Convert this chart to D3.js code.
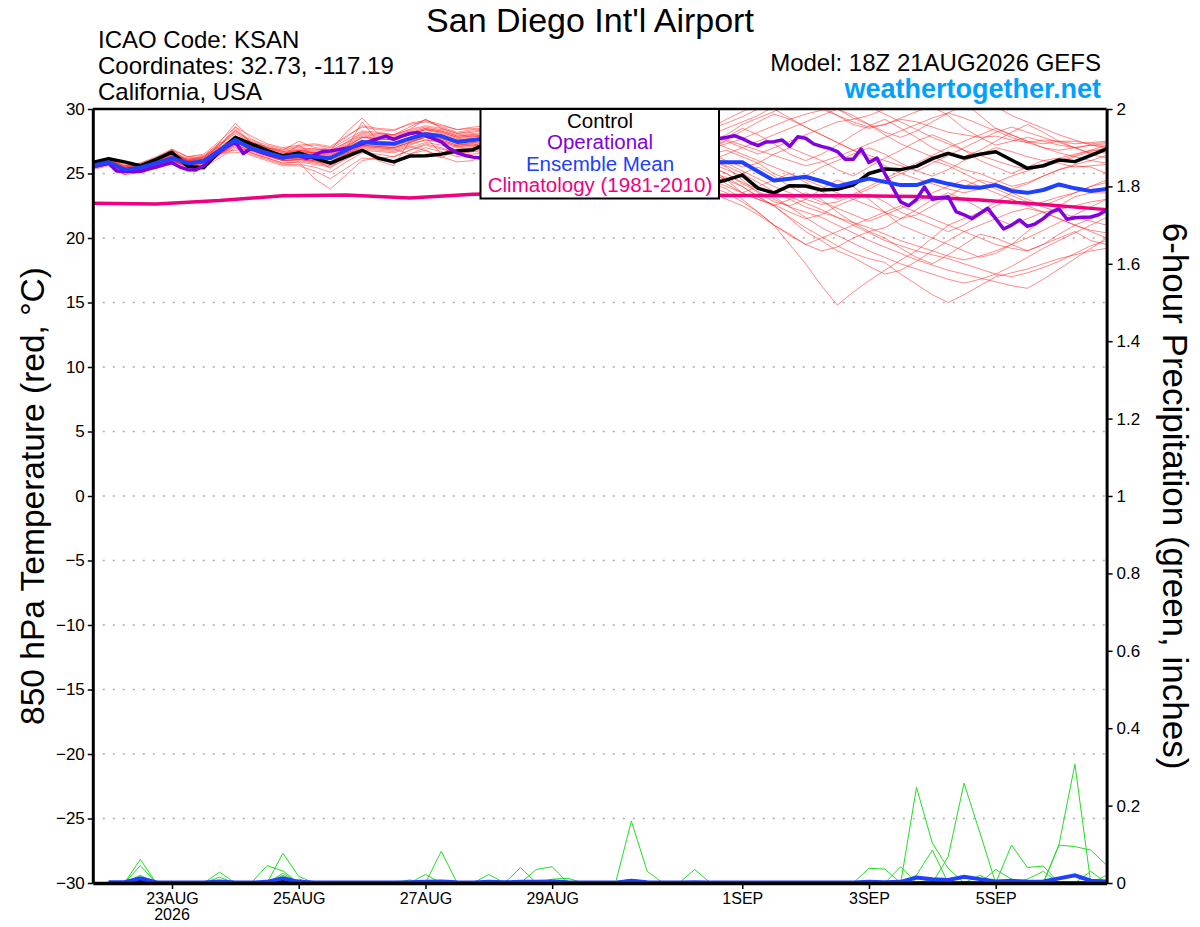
<!DOCTYPE html>
<html>
<head>
<meta charset="utf-8">
<script src="https://cdn.jsdelivr.net/npm/d3@7"></script>
<style>
  body { margin: 0; background: #fff; }
  text { font-family: "Liberation Sans", Arial, Helvetica, sans-serif; }
</style>
</head>
<body>
<svg id="chart" width="1200" height="927"></svg>
<script>
var runStart = Date.UTC(2026, 7, 21, 18);   // 18Z 21AUG2026
var stepHours = 6;          // ensemble / control / mean
var operStepHours = 3;      // operational run
var climoStepHours = 24;
var precipStartHour = 6;    // first 6-hour precip total

var tempTicks = [-30, -25, -20, -15, -10, -5, 0, 5, 10, 15, 20, 25, 30];
var precipTicks = [0, 0.2, 0.4, 0.6, 0.8, 1, 1.2, 1.4, 1.6, 1.8, 2];
var dateTicks = ["2026-08-23", "2026-08-25", "2026-08-27", "2026-08-29", "2026-09-01", "2026-09-03", "2026-09-05"];
var dateTickLabels = ["23AUG", "25AUG", "27AUG", "29AUG", "1SEP", "3SEP", "5SEP"];

var controlTemp = [25.85, 26.15, 25.9, 25.6, 26.1, 26.65, 25.55, 25.45, 26.7, 27.8, 27.3, 26.8, 26.35, 26.6, 26.2, 25.8,
  26.3, 26.8, 26.2, 25.9, 26.35, 26.38, 26.5, 26.75, 26.85, 27.4, 27.6, 27.9, 27.5, 27.2, 27.0, 26.6,
  26.2, 25.8, 25.5, 25.2, 24.9, 24.6, 24.5, 24.2, 24.5, 24.88, 23.85, 23.5, 24.06, 24.03, 23.72, 23.78,
  24.1, 25.0, 25.35, 25.3, 25.55, 26.15, 26.56, 26.2, 26.49, 26.69, 26.05, 25.4, 25.6, 26.05, 25.92, 26.4, 26.9];

var meanTemp = [25.6, 25.87, 25.3, 25.45, 25.8, 26.18, 25.8, 25.95, 26.8, 27.6, 26.95, 26.6, 26.25, 26.4, 26.3, 26.18,
  26.8, 27.45, 27.35, 27.3, 27.7, 28.05, 27.9, 27.45, 27.6, 27.75, 27.6, 27.4, 27.2, 27.0, 26.9, 26.7,
  26.5, 26.4, 26.3, 26.2, 26.1, 26.0, 25.95, 25.9, 25.87, 25.87, 25.15, 24.45, 24.6, 24.75, 24.4, 24.0,
  24.3, 24.6, 24.35, 24.1, 24.1, 24.5, 24.2, 23.95, 23.9, 24.1, 23.65, 23.5, 23.72, 24.15, 23.85, 23.65, 23.8];

var operTemp = [25.53, 25.65, 25.8, 25.2, 25.15, 25.15, 25.15, 25.35, 25.5, 25.7,
  25.84, 25.5, 25.3, 25.27, 25.6, 26.2, 26.7, 27.1, 27.45, 26.55,
  26.95, 26.7, 26.5, 26.35, 26.2, 26.35, 26.4, 26.18, 26.45, 26.7,
  26.74, 26.85, 26.95, 27.08, 27.3, 27.5, 27.7, 27.9, 27.65, 27.9,
  28.1, 28.17, 27.95, 27.7, 27.45, 26.95, 26.6, 26.4, 26.27, 26.2,
  26.3, 26.5, 26.7, 26.9, 27.1, 27.3, 27.5, 27.6, 27.7, 27.8,
  27.9, 27.8, 27.7, 27.6, 27.5, 27.6, 27.7, 27.8, 27.9, 28.0,
  27.9, 27.8, 27.7, 27.6, 27.5, 27.6, 27.7, 27.8, 27.7,
  27.7, 27.8, 27.93, 27.7, 27.4, 27.16, 27.45, 27.47, 27.6, 27.1,
  27.85, 27.73, 27.3, 27.1, 26.95, 26.7, 26.1, 26.1, 26.9, 25.85,
  26.2, 25.0, 23.9, 22.8, 22.5, 23.0,
  23.95, 23.0, 23.1, 23.2, 22.05, 21.8, 21.5, 21.9, 22.3, 21.5,
  20.7, 21.0, 21.4, 20.9, 21.1, 21.5, 22.0, 22.25, 21.45, 21.57,
  21.6, 21.63, 21.8, 22.17];

var climoTemp = [22.69, 22.64, 22.9, 23.28, 23.33, 23.1, 23.4, 23.5, 23.5, 23.45, 23.3, 23.28, 23.27, 23.22, 22.95, 22.6, 22.2];

var memberTemps = [
  [25.7, 26.0, 25.5, 25.6, 26.1, 26.6, 26.0, 26.2, 27.2, 28.2, 27.5, 27.0, 26.8, 27.5, 27.0, 26.9, 27.6, 28.3, 28.2, 28.0, 28.6, 29.2, 28.6, 28.2, 28.4,
   28.6, 28.8, 29.0, 28.7, 28.4, 28.6, 28.9, 29.2, 28.8, 28.5, 28.3, 28.5, 28.4, 28.5,
   28.5, 28.9, 29.4, 30.0, 30.6, 31.0, 30.6, 30.0, 29.5, 29.0, 28.6, 28.8, 29.2, 29.0, 28.6, 28.2, 28.0, 27.8, 27.9, 27.6, 27.4, 27.6, 27.5, 27.3, 27.4, 27.5],
  [25.5, 25.8, 25.1, 25.3, 25.6, 26.0, 25.5, 25.7, 26.5, 27.3, 26.6, 26.2, 25.8, 25.9, 24.6, 23.8, 24.9, 26.0, 26.2, 26.3, 26.8, 27.3, 27.0, 26.5, 26.7,
   26.9, 27.2, 27.0, 26.6, 26.2, 25.9, 25.6, 25.3, 25.0, 24.8, 24.6, 24.4, 24.5, 24.5,
   24.3, 23.8, 23.0, 22.0, 21.0, 19.5, 18.0, 16.3, 14.8, 15.8, 16.7, 17.5, 18.3, 19.0, 20.0, 21.0, 21.5, 22.0, 22.8, 23.5, 23.0, 22.5, 23.0, 23.5, 24.0, 24.5],
  [25.8, 26.1, 25.6, 25.7, 26.0, 26.5, 26.1, 26.3, 27.4, 28.9, 27.7, 27.0, 26.6, 26.8, 26.6, 26.4, 27.0, 27.8, 27.7, 27.6, 28.0, 28.4, 28.2, 27.8, 27.9,
   27.7, 27.4, 27.1, 26.8, 26.6, 26.4, 26.2, 26.0, 25.8, 25.6, 25.4, 25.3, 25.2, 25.1,
   25.0, 24.5, 24.0, 23.2, 22.5, 21.6, 20.8, 20.1, 19.4, 18.8, 18.4, 18.1, 17.2, 16.4, 15.6, 15.0, 15.6, 16.3, 17.0, 17.3, 17.6, 18.0, 18.4, 18.7, 19.0, 19.2],
  [25.4, 25.7, 25.2, 25.4, 26.0, 26.9, 25.9, 25.8, 26.5, 27.2, 26.8, 26.4, 26.0, 26.1, 26.0, 25.9, 26.4, 27.1, 27.0, 26.9, 27.3, 27.6, 27.5, 27.1, 27.2,
   27.0, 26.8, 26.5, 26.3, 26.1, 26.0, 25.9, 25.8, 25.7, 25.6, 25.6, 25.5, 25.5, 25.5,
   25.5, 25.0, 24.2, 23.6, 23.0, 22.4, 22.0, 21.6, 21.0, 20.4, 19.8, 19.3, 18.8, 18.3, 17.9, 17.5, 17.2, 16.9, 16.6, 16.3, 16.1, 16.8, 17.6, 18.4, 19.2, 20.0],
  [25.6, 25.9, 25.2, 25.4, 25.7, 26.1, 25.7, 26.1, 26.9, 27.8, 27.1, 26.6, 26.2, 26.2, 26.0, 25.8, 26.5, 27.2, 27.1, 27.0, 27.4, 27.8, 27.6, 27.2, 27.3,
   27.1, 26.8, 26.4, 26.0, 25.7, 25.4, 25.1, 24.9, 24.7, 24.5, 24.4, 24.3, 24.2, 24.1,
   24.0, 23.5, 22.8, 22.0, 21.0, 20.3, 19.5, 19.0, 19.3, 20.0, 20.5, 20.0, 19.2, 18.5, 18.0, 18.7, 19.5, 20.3, 20.0, 19.5, 19.0, 19.5, 20.3, 21.0, 21.5, 22.0],
  [25.7, 25.8, 24.9, 25.5, 25.9, 26.3, 25.9, 26.0, 26.7, 27.4, 26.9, 26.6, 26.4, 27.2, 26.4, 26.3, 26.9, 27.4, 27.3, 27.2, 27.6, 27.9, 27.7, 27.4, 27.5,
   27.3, 27.0, 26.7, 26.4, 26.1, 25.9, 25.7, 25.6, 25.5, 25.4, 25.3, 25.2, 25.1, 25.0,
   25.0, 24.2, 23.5, 23.0, 22.6, 22.0, 21.5, 21.8, 22.5, 23.0, 23.4, 22.8, 22.0, 21.5, 21.0, 20.5, 21.0, 21.8, 22.5, 23.0, 22.5, 22.0, 21.5, 21.0, 20.5, 20.0],
  [25.6, 25.9, 25.4, 25.6, 26.0, 26.5, 26.1, 26.3, 27.1, 28.6, 27.4, 27.0, 26.7, 26.8, 26.8, 26.7, 27.4, 28.1, 28.0, 27.9, 28.3, 28.6, 28.4, 28.0, 28.1,
   28.2, 28.4, 28.5, 28.3, 28.1, 27.9, 27.7, 27.6, 27.5, 27.4, 27.4, 27.5, 27.5, 27.5,
   27.5, 28.0, 28.8, 29.3, 29.8, 30.5, 30.8, 30.2, 29.5, 28.8, 28.5, 28.8, 29.3, 29.8, 30.2, 29.5, 28.5, 27.8, 27.2, 27.5, 27.8, 27.5, 27.2, 27.0, 27.2, 27.3],
  [25.5, 25.8, 25.3, 25.4, 25.7, 26.1, 25.7, 25.9, 26.7, 27.5, 26.8, 26.4, 26.1, 26.2, 26.1, 25.4, 26.6, 27.3, 27.2, 27.1, 27.5, 27.9, 27.7, 27.3, 27.4,
   27.5, 27.6, 27.4, 27.2, 27.0, 26.9, 26.8, 26.7, 26.6, 26.6, 26.5, 26.5, 26.5, 26.5,
   26.5, 26.0, 25.5, 25.8, 26.5, 27.0, 26.5, 26.0, 25.3, 24.8, 25.5, 26.2, 26.8, 27.5, 28.0, 27.5, 26.8, 26.0, 25.5, 25.0, 25.5, 26.0, 26.2, 26.5, 26.8, 26.8],
  [25.6, 25.9, 25.3, 25.4, 25.8, 26.3, 25.9, 26.0, 26.8, 27.7, 27.1, 26.7, 26.3, 26.5, 26.4, 26.3, 26.9, 29.0, 27.5, 27.4, 27.8, 28.2, 28.0, 27.6, 27.7,
   27.8, 27.7, 27.5, 27.3, 27.1, 27.0, 26.9, 26.8, 26.6, 26.5, 26.4, 26.3, 26.2, 26.1,
   26.0, 25.5, 24.5, 23.5, 22.8, 22.5, 23.0, 23.8, 24.5, 24.0, 23.0, 22.0, 21.0, 20.5, 20.0, 19.5, 19.0, 18.5, 18.8, 19.5, 20.5, 21.5, 22.5, 23.2, 23.5, 23.5],
  [25.7, 26.0, 25.5, 25.6, 25.9, 26.4, 26.0, 26.2, 27.0, 27.9, 27.3, 26.9, 26.6, 26.7, 26.6, 26.5, 27.1, 27.8, 27.7, 27.6, 28.0, 28.4, 28.2, 27.8, 27.9,
   28.0, 28.1, 27.9, 27.7, 27.5, 27.4, 27.3, 27.2, 27.1, 27.0, 27.0, 27.0, 27.0, 27.0,
   27.0, 27.5, 27.0, 26.5, 27.0, 27.5, 28.0, 28.5, 29.0, 29.2, 29.5, 30.0, 30.5, 31.0, 30.5, 30.0, 30.5, 29.5, 28.5, 28.0, 27.5, 27.3, 27.5, 27.5, 27.3, 27.4],
  [25.4, 25.7, 25.1, 25.3, 25.6, 26.0, 25.6, 25.8, 27.4, 27.3, 26.7, 26.3, 26.0, 26.0, 25.8, 25.6, 26.2, 26.9, 26.8, 26.7, 27.1, 26.8, 26.2, 26.9, 27.0,
   26.8, 26.6, 26.4, 26.2, 26.0, 25.9, 25.8, 25.7, 25.7, 25.6, 25.6, 25.5, 25.5, 25.5,
   25.5, 24.5, 23.5, 23.0, 22.5, 23.0, 23.5, 23.0, 22.0, 21.2, 20.5, 20.8, 21.5, 22.2, 23.0, 23.5, 23.0, 22.3, 21.5, 21.0, 21.5, 22.0, 22.2, 22.5, 22.8, 23.0],
  [25.8, 26.1, 25.5, 25.7, 26.1, 26.6, 26.2, 26.3, 27.2, 28.1, 27.4, 27.0, 26.7, 26.9, 26.9, 26.8, 28.2, 29.3, 28.1, 28.0, 28.4, 29.2, 28.5, 28.1, 28.3,
   28.4, 28.3, 28.1, 27.9, 27.7, 27.5, 27.4, 27.3, 27.2, 27.1, 27.1, 27.0, 27.0, 27.0,
   27.0, 27.8, 28.5, 28.0, 27.3, 26.5, 26.0, 26.5, 27.2, 28.0, 28.7, 29.2, 28.5, 27.8, 27.0, 26.5, 26.3, 26.8, 27.5, 28.2, 28.8, 28.2, 27.5, 27.0, 26.5, 26.2],
  [25.5, 25.8, 25.2, 25.3, 25.7, 26.0, 25.6, 25.8, 26.5, 27.4, 26.9, 26.5, 26.1, 26.2, 26.0, 25.9, 26.5, 27.2, 27.1, 27.0, 27.4, 27.9, 26.5, 27.2, 27.4,
   27.2, 27.0, 26.8, 26.6, 26.4, 26.2, 26.0, 25.8, 25.6, 25.4, 25.3, 25.2, 25.1, 25.0,
   25.0, 24.7, 24.0, 23.2, 22.5, 21.5, 20.5, 19.8, 19.0, 18.5, 17.8, 17.2, 17.5, 18.2, 19.0, 19.8, 20.5, 21.0, 21.5, 22.0, 22.3, 22.0, 21.5, 21.0, 20.6, 20.4],
  [25.6, 25.9, 25.4, 25.5, 25.9, 26.3, 26.0, 26.1, 26.9, 27.7, 27.1, 26.7, 26.4, 26.6, 26.5, 26.4, 27.0, 27.6, 27.5, 27.4, 27.8, 28.2, 28.0, 27.6, 27.7,
   27.6, 27.4, 27.2, 27.0, 26.8, 26.6, 26.5, 26.4, 26.3, 26.2, 26.1, 26.1, 26.0, 26.0,
   26.0, 26.5, 27.0, 27.5, 28.0, 28.5, 29.0, 29.5, 30.0, 29.5, 28.8, 28.0, 27.3, 26.8, 26.3, 25.8, 25.3, 25.0, 24.5, 24.0, 24.3, 24.8, 25.3, 25.7, 26.0, 26.4],
  [25.5, 25.7, 25.2, 25.4, 25.7, 26.1, 25.7, 25.9, 26.6, 27.5, 26.9, 26.5, 26.2, 26.3, 26.1, 25.9, 26.6, 26.8, 26.0, 25.6, 27.5, 27.8, 27.6, 27.2, 27.3,
   27.0, 26.7, 26.4, 26.1, 25.8, 25.5, 25.3, 25.1, 24.9, 24.8, 24.7, 24.6, 24.6, 24.5,
   24.5, 24.0, 23.5, 24.0, 24.5, 25.0, 24.5, 24.0, 23.5, 23.0, 22.5, 22.0, 21.5, 21.8, 22.5, 23.2, 24.0, 24.5, 24.2, 23.8, 24.2, 24.8, 25.3, 25.6, 25.5, 25.0],
  [25.7, 26.1, 25.6, 25.7, 26.0, 26.5, 26.1, 26.2, 27.1, 28.4, 27.4, 27.1, 26.8, 27.0, 26.9, 26.8, 27.4, 28.2, 28.1, 28.0, 28.4, 28.7, 28.5, 28.1, 28.2,
   28.4, 28.6, 28.7, 28.5, 28.3, 28.2, 28.1, 28.0, 28.0, 27.9, 27.9, 28.0, 28.0, 28.0,
   28.0, 28.5, 29.0, 29.5, 30.2, 30.8, 31.0, 30.5, 30.0, 29.3, 28.8, 28.2, 27.8, 28.3, 29.0, 29.7, 30.3, 30.8, 30.2, 29.5, 29.0, 28.5, 28.0, 27.6, 27.2, 27.0],
  [25.5, 25.8, 25.2, 25.4, 25.7, 26.0, 25.6, 25.9, 26.7, 26.8, 26.9, 26.4, 26.0, 26.1, 25.9, 25.7, 26.4, 27.0, 26.9, 26.8, 27.2, 27.6, 27.4, 27.0, 27.1,
   26.9, 26.6, 26.2, 25.8, 25.5, 25.2, 24.9, 24.6, 24.4, 24.2, 24.0, 23.8, 23.7, 23.6,
   23.5, 23.0, 22.5, 21.8, 21.0, 20.2, 19.5, 20.0, 20.5, 21.0, 21.5, 22.0, 22.5, 22.0, 21.5, 21.0, 20.5, 20.0, 19.5, 19.2, 19.0, 19.5, 20.0, 20.5, 19.8, 19.5],
  [25.6, 25.9, 25.3, 25.5, 25.8, 26.2, 25.8, 26.0, 26.8, 27.6, 27.0, 26.6, 26.3, 26.4, 26.3, 26.2, 26.8, 27.5, 27.4, 27.3, 27.7, 28.1, 27.9, 27.5, 27.6,
   27.7, 27.6, 27.4, 27.2, 27.0, 26.9, 26.8, 26.7, 26.6, 26.6, 26.5, 26.5, 26.5, 26.5,
   26.5, 26.8, 26.3, 25.8, 25.0, 24.5, 24.8, 25.5, 26.0, 26.5, 27.0, 26.5, 25.8, 25.2, 24.8, 25.3, 26.0, 26.5, 27.0, 26.7, 26.3, 26.0, 25.8, 25.5, 25.6, 25.7],
  [25.7, 25.9, 25.4, 25.6, 25.9, 26.4, 26.0, 26.1, 26.9, 27.8, 27.2, 26.8, 26.5, 26.6, 26.6, 26.5, 27.1, 27.8, 27.7, 27.6, 28.0, 28.4, 28.1, 27.7, 27.8,
   28.0, 28.1, 28.0, 27.9, 27.8, 27.7, 27.7, 27.6, 27.6, 27.5, 27.5, 27.5, 27.5, 27.5,
   27.5, 27.0, 26.5, 26.0, 25.5, 25.0, 24.3, 23.6, 23.0, 23.4, 24.0, 24.6, 25.2, 25.8, 26.4, 27.0, 27.5, 28.0, 28.5, 28.0, 27.5, 27.0, 26.8, 27.0, 27.2, 27.1],
  [25.4, 25.7, 25.1, 25.3, 25.6, 26.0, 25.6, 25.8, 26.6, 26.6, 26.8, 26.4, 26.0, 26.1, 25.9, 25.8, 26.4, 27.1, 27.0, 26.9, 26.5, 26.8, 26.3, 25.9, 26.0,
   26.9, 26.7, 26.5, 26.3, 26.1, 25.9, 25.7, 25.5, 25.4, 25.3, 25.2, 25.1, 25.0, 25.0,
   25.0, 24.5, 25.0, 25.5, 24.8, 24.0, 23.3, 22.8, 22.3, 21.8, 21.3, 21.8, 22.3, 22.8, 23.5, 24.0, 24.5, 24.0, 23.5, 23.0, 22.5, 22.8, 23.2, 23.5, 24.0, 24.3],
  [25.9, 26.2, 25.7, 25.8, 26.3, 26.9, 26.3, 26.5, 27.5, 28.6, 27.9, 27.3, 27.0, 27.2, 27.3, 27.1, 27.9, 28.6, 28.4, 28.3, 28.9, 29.1, 28.8, 28.4, 28.5,
   28.3, 28.1, 27.9, 27.8, 27.7, 27.6, 27.5, 27.4, 27.3, 27.2, 27.1, 27.1, 27.0, 27.0,
   27.0, 27.6, 28.3, 29.0, 29.6, 29.2, 28.6, 28.0, 27.4, 26.8, 26.2, 25.6, 25.0, 24.6, 24.2, 23.8, 23.5, 23.8, 24.3, 24.8, 25.2, 25.6, 26.0, 26.4, 26.8, 27.2],
  [25.3, 25.6, 24.9, 25.1, 25.4, 25.7, 25.3, 25.5, 26.2, 27.0, 26.4, 26.0, 25.6, 25.6, 25.2, 24.6, 25.4, 26.2, 26.1, 25.9, 26.5, 27.0, 26.7, 26.3, 26.5,
   26.6, 26.7, 26.6, 26.5, 26.4, 26.4, 26.3, 26.3, 26.2, 26.2, 26.1, 26.1, 26.0, 26.0,
   26.0, 25.6, 25.0, 24.3, 23.6, 23.0, 22.4, 22.0, 21.6, 21.2, 20.8, 20.3, 19.8, 19.4, 19.0, 18.6, 18.3, 18.6, 19.0, 19.5, 20.0, 20.6, 21.2, 21.8, 22.4, 23.0],
  [25.8, 26.0, 25.6, 25.8, 26.2, 26.8, 26.3, 26.4, 27.3, 28.3, 27.6, 27.2, 26.9, 27.1, 27.2, 27.0, 27.8, 28.7, 28.5, 28.4, 28.8, 29.0, 28.7, 28.4, 28.6,
   28.7, 28.9, 29.1, 28.9, 28.7, 28.6, 28.5, 28.4, 28.4, 28.4, 28.5, 28.5, 28.5, 28.5,
   28.5, 29.2, 29.8, 30.4, 30.0, 29.3, 28.6, 28.0, 27.4, 26.8, 26.4, 26.0, 25.6, 25.2, 25.8, 26.4, 27.0, 27.6, 28.2, 28.6, 28.2, 27.8, 27.4, 27.0, 26.6, 26.6],
  [25.5, 25.9, 25.3, 25.3, 25.6, 26.0, 25.5, 25.6, 26.4, 27.1, 26.5, 26.1, 25.7, 25.7, 25.5, 25.1, 25.9, 26.6, 26.5, 26.3, 26.8, 27.2, 26.9, 26.6, 26.7,
   26.6, 26.5, 26.4, 26.3, 26.2, 26.1, 26.0, 25.9, 25.8, 25.7, 25.7, 25.6, 25.6, 25.5,
   25.5, 25.0, 24.3, 23.8, 23.5, 23.2, 22.7, 22.2, 21.6, 21.0, 20.4, 19.8, 19.4, 19.0, 18.7, 18.4, 18.0, 17.6, 17.2, 17.0, 17.3, 17.7, 18.2, 18.8, 19.4, 19.8],
  [25.6, 25.9, 25.4, 25.6, 25.9, 26.3, 25.9, 26.1, 27.0, 27.9, 27.2, 26.8, 26.5, 26.7, 26.6, 26.6, 27.3, 28.0, 27.9, 27.8, 28.2, 28.5, 28.3, 27.9, 28.0,
   27.8, 27.6, 27.5, 27.4, 27.3, 27.2, 27.1, 27.1, 27.0, 27.0, 27.0, 27.0, 27.0, 27.0,
   27.0, 27.3, 27.7, 28.2, 28.7, 29.2, 29.6, 29.9, 30.3, 30.6, 30.2, 29.6, 29.0, 28.4, 27.8, 27.3, 26.8, 26.4, 26.0, 25.6, 25.3, 25.5, 25.9, 26.3, 26.7, 27.0],
  [25.6, 25.8, 25.2, 25.5, 25.8, 26.2, 25.8, 25.9, 26.7, 27.4, 26.8, 26.5, 26.1, 26.3, 26.1, 25.9, 26.6, 27.2, 27.1, 27.0, 27.4, 27.8, 27.5, 27.1, 27.2,
   27.1, 26.9, 26.8, 26.7, 26.6, 26.6, 26.5, 26.5, 26.4, 26.4, 26.3, 26.3, 26.2, 26.2,
   26.2, 25.8, 25.2, 24.6, 24.0, 23.5, 23.0, 22.6, 22.8, 23.3, 23.8, 24.4, 25.0, 25.5, 26.0, 25.6, 25.0, 24.4, 23.8, 23.3, 22.8, 22.4, 22.0, 21.6, 21.3, 21.0],
  [25.7, 26.0, 25.5, 25.7, 26.0, 26.4, 26.0, 26.1, 26.9, 27.8, 27.2, 26.8, 26.5, 26.8, 26.7, 26.6, 27.2, 27.9, 27.8, 27.7, 28.1, 28.5, 28.3, 27.9, 28.0,
   28.1, 28.2, 28.3, 28.3, 28.2, 28.2, 28.1, 28.1, 28.1, 28.0, 28.0, 28.0, 28.0, 28.0,
   28.0, 27.6, 27.2, 26.8, 26.4, 26.0, 25.6, 25.9, 26.3, 26.8, 27.3, 27.8, 28.3, 28.8, 29.3, 29.7, 29.3, 28.8, 28.3, 27.8, 27.4, 27.0, 26.6, 26.3, 26.0, 25.8],
  [25.5, 25.7, 25.1, 25.3, 25.6, 25.9, 25.5, 25.7, 26.5, 27.2, 26.6, 26.2, 25.8, 25.9, 25.7, 25.5, 26.1, 26.8, 26.7, 26.6, 27.0, 27.4, 27.2, 26.8, 26.9,
   26.8, 26.7, 26.6, 26.5, 26.4, 26.3, 26.2, 26.1, 26.0, 26.0, 25.9, 25.9, 25.8, 25.8,
   25.8, 25.3, 24.8, 24.0, 23.2, 22.4, 21.6, 20.8, 20.2, 19.6, 19.0, 18.5, 18.0, 17.6, 17.2, 16.8, 16.5, 16.8, 17.2, 17.8, 18.5, 19.2, 19.8, 20.4, 21.0, 21.6]
];

// 6-hour precipitation (inches), first value ends 00Z 22AUG
var precipMembers = [
  [0, 0, 0.061, 0, 0, 0, 0, 0.028, 0, 0, 0, 0.077, 0.017, 0, 0, 0,  0, 0, 0, 0, 0, 0, 0, 0, 0, 0, 0, 0, 0, 0, 0, 0,
   0, 0, 0, 0, 0, 0, 0, 0, 0, 0, 0, 0, 0, 0, 0, 0,  0, 0, 0, 0.247, 0.103, 0.038, 0, 0, 0, 0, 0, 0, 0, 0, 0, 0],
  [0, 0, 0.045, 0, 0, 0, 0, 0, 0, 0, 0.045, 0.031, 0, 0, 0, 0,  0, 0, 0, 0, 0, 0.082, 0, 0, 0, 0, 0, 0, 0, 0, 0, 0,
   0, 0, 0, 0, 0, 0, 0, 0, 0, 0, 0, 0, 0, 0, 0, 0,  0, 0, 0, 0, 0, 0.068, 0.258, 0.13, 0, 0, 0, 0, 0, 0, 0, 0],
  [0, 0, 0.02, 0, 0, 0, 0, 0.015, 0, 0, 0, 0.025, 0, 0, 0, 0,  0, 0, 0, 0, 0.022, 0, 0, 0, 0, 0, 0, 0, 0, 0, 0, 0,
   0, 0.16, 0.03, 0, 0, 0, 0, 0, 0, 0, 0, 0, 0, 0, 0, 0,  0, 0, 0, 0.02, 0.085, 0, 0, 0, 0, 0, 0, 0, 0, 0, 0, 0],
  [0, 0, 0.013, 0, 0, 0, 0, 0, 0, 0, 0, 0.02, 0, 0, 0, 0,  0, 0, 0, 0, 0, 0, 0, 0, 0.022, 0, 0.04, 0, 0, 0, 0, 0,
   0, 0, 0, 0, 0, 0, 0, 0, 0, 0, 0, 0, 0, 0, 0, 0,  0, 0, 0, 0, 0, 0, 0, 0, 0, 0.098, 0.04, 0.044, 0, 0, 0, 0],
  [0, 0, 0, 0.005, 0, 0, 0, 0, 0, 0, 0, 0.012, 0, 0, 0, 0,  0, 0, 0, 0, 0, 0, 0, 0, 0, 0, 0, 0.035, 0.042, 0, 0, 0,
   0, 0, 0, 0, 0, 0, 0, 0, 0, 0, 0, 0, 0, 0, 0, 0,  0.038, 0.036, 0, 0, 0, 0, 0, 0, 0, 0, 0, 0, 0.098, 0.094, 0.085, 0.046],
  [0, 0, 0.008, 0, 0, 0, 0, 0, 0, 0, 0, 0, 0.01, 0, 0, 0,  0, 0, 0, 0, 0, 0, 0, 0, 0, 0, 0, 0, 0, 0, 0, 0,
   0, 0, 0, 0, 0, 0.035, 0, 0, 0, 0, 0, 0, 0, 0, 0, 0,  0, 0, 0.042, 0, 0, 0, 0, 0, 0, 0, 0, 0, 0.1, 0.307, 0, 0],
  [0, 0, 0, 0, 0, 0, 0, 0, 0, 0, 0, 0.015, 0, 0, 0, 0,  0, 0, 0, 0.008, 0, 0, 0, 0, 0, 0.005, 0, 0, 0, 0, 0, 0,
   0, 0, 0, 0, 0, 0, 0, 0, 0, 0, 0, 0, 0, 0, 0, 0,  0, 0, 0, 0, 0.01, 0, 0, 0, 0.035, 0.01, 0, 0, 0, 0, 0, 0.02],
  [0, 0, 0, 0, 0, 0, 0, 0, 0, 0, 0, 0, 0, 0, 0, 0,  0, 0, 0, 0, 0, 0, 0, 0, 0, 0, 0, 0, 0.01, 0.012, 0, 0,
   0, 0, 0, 0, 0, 0, 0, 0, 0, 0, 0, 0, 0, 0, 0, 0,  0.005, 0, 0, 0, 0, 0, 0, 0.02, 0, 0, 0.01, 0.03, 0, 0, 0.03, 0]
];

var precipMean = [0.002, 0.002, 0.012, 0.002, 0.001, 0.001, 0.001, 0.004, 0.001, 0.001, 0.003, 0.012, 0.003, 0.001, 0.001, 0.001,
  0.001, 0.001, 0.001, 0.002, 0.003, 0.004, 0.002, 0.001, 0.003, 0.002, 0.003, 0.003, 0.004, 0.002, 0.001, 0.001,
  0.001, 0.006, 0.002, 0.001, 0.001, 0.002, 0.001, 0.001, 0.001, 0.001, 0.001, 0.001, 0.001, 0.001, 0.001, 0.001,
  0.003, 0.002, 0.003, 0.014, 0.01, 0.008, 0.016, 0.01, 0.004, 0.006, 0.003, 0.004, 0.012, 0.02, 0.006, 0.004];

var precipControl = [0, 0, 0.004, 0, 0, 0, 0, 0, 0, 0, 0, 0.003, 0, 0, 0, 0,  0, 0, 0, 0, 0, 0, 0, 0, 0, 0, 0, 0, 0, 0, 0, 0,
  0, 0.006, 0, 0, 0, 0, 0, 0, 0, 0, 0, 0, 0, 0, 0, 0,  0, 0, 0, 0, 0, 0, 0, 0, 0, 0, 0, 0, 0, 0, 0, 0];

// ---- layout ----
var svg = d3.select("#chart");
var plotL = 92.8, plotR = 1106.6, plotT = 109, plotB = 883;
var hour = 3600 * 1000;

var x = d3.scaleUtc()
    .domain([new Date(runStart), new Date(runStart + 384 * hour)])
    .range([plotL, plotR]);
var yT = d3.scaleLinear().domain([-30, 30]).range([plotB, plotT]);
var yP = d3.scaleLinear().domain([0, 2]).range([plotB, plotT]);

function timeAt(offsetH, stepH) {
    return function(d, i) { return x(new Date(runStart + (offsetH + i * stepH) * hour)); };
}
function tempLine(stepH) {
    return d3.line().x(timeAt(0, stepH)).y(d => yT(d));
}
var precipLine = d3.line().x(timeAt(precipStartHour, stepHours)).y(d => yP(d));

svg.append("defs").append("clipPath").attr("id", "plotClip")
    .append("rect")
    .attr("x", plotL).attr("y", plotT)
    .attr("width", plotR - plotL).attr("height", plotB - plotT);

// dotted grid
svg.append("g").selectAll("line")
    .data(tempTicks.filter(d => d > -30 && d < 30))
    .enter().append("line")
    .attr("x1", plotL).attr("x2", plotR)
    .attr("y1", d => yT(d)).attr("y2", d => yT(d))
    .attr("stroke", "#aaaaaa")
    .attr("stroke-width", 1.5)
    .attr("stroke-dasharray", "2,8");

var plot = svg.append("g").attr("clip-path", "url(#plotClip)");

// ensemble members
plot.append("g").selectAll("path")
    .data(memberTemps)
    .enter().append("path")
    .attr("d", tempLine(stepHours))
    .attr("fill", "none")
    .attr("stroke", "#ff2a2a")
    .attr("stroke-opacity", 0.55)
    .attr("stroke-width", 1);

plot.append("g").selectAll("path")
    .data(precipMembers)
    .enter().append("path")
    .attr("d", precipLine)
    .attr("fill", "none")
    .attr("stroke", "#22dd22")
    .attr("stroke-width", 1);

plot.append("path").datum(precipControl)
    .attr("d", precipLine)
    .attr("fill", "none").attr("stroke", "#000").attr("stroke-width", 3.5);
plot.append("path").datum(precipMean)
    .attr("d", precipLine)
    .attr("fill", "none").attr("stroke", "#2040ff").attr("stroke-width", 4);

plot.append("path").datum(controlTemp)
    .attr("d", tempLine(stepHours))
    .attr("fill", "none").attr("stroke", "#000").attr("stroke-width", 3.5)
    .attr("stroke-linejoin", "round");
plot.append("path").datum(climoTemp)
    .attr("d", tempLine(climoStepHours))
    .attr("fill", "none").attr("stroke", "#f0007f").attr("stroke-width", 3.5);
plot.append("path").datum(operTemp)
    .attr("d", tempLine(operStepHours))
    .attr("fill", "none").attr("stroke", "#8000e0").attr("stroke-width", 3.5)
    .attr("stroke-linejoin", "round");
plot.append("path").datum(meanTemp)
    .attr("d", tempLine(stepHours))
    .attr("fill", "none").attr("stroke", "#2040ff").attr("stroke-width", 4)
    .attr("stroke-linejoin", "round");

// axes
function styleAxis(g, size) {
    g.select(".domain").attr("stroke-width", 3);
    g.selectAll(".tick line").attr("stroke-width", 1.5);
    g.selectAll(".tick text").attr("font-size", size)
        .attr("font-family", '"Liberation Sans", Arial, sans-serif').attr("fill", "#000");
}

svg.append("line")
    .attr("x1", plotL).attr("x2", plotR).attr("y1", plotT).attr("y2", plotT)
    .attr("stroke", "#000").attr("stroke-width", 2.5);

svg.append("g")
    .attr("transform", "translate(" + plotL + ",0)")
    .call(d3.axisLeft(yT).tickValues(tempTicks).tickSize(5).tickSizeOuter(0).tickPadding(3))
    .call(g => styleAxis(g, 17));

svg.append("g")
    .attr("transform", "translate(" + plotR + ",0)")
    .call(d3.axisRight(yP).tickValues(precipTicks).tickSize(6).tickSizeOuter(0).tickPadding(4)
        .tickFormat(d3.format("~g")))
    .call(g => styleAxis(g, 17));

var xAxis = svg.append("g")
    .attr("transform", "translate(0," + plotB + ")")
    .call(d3.axisBottom(x)
        .tickValues(dateTicks.map(d => new Date(d + "T00:00:00Z")))
        .tickFormat((d, i) => dateTickLabels[i])
        .tickSize(6).tickSizeOuter(0).tickPadding(4))
    .call(g => styleAxis(g, 16));
xAxis.select(".domain").attr("stroke-width", 3.5);

svg.append("text")
    .attr("x", x(new Date(dateTicks[0] + "T00:00:00Z"))).attr("y", 920)
    .attr("text-anchor", "middle").attr("font-size", 16)
    .text("2026");

// legend
var legend = svg.append("g");
legend.append("rect")
    .attr("x", 480.5).attr("y", 109).attr("width", 238.5).attr("height", 89.5)
    .attr("fill", "#fff").attr("stroke", "#000").attr("stroke-width", 2);
var legendItems = ["Control", "Operational", "Ensemble Mean", "Climatology (1981-2010)"];
var legendColors = ["#000", "#8000e0", "#2040ff", "#f0007f"];
legend.selectAll("text.leg")
    .data(legendItems)
    .enter().append("text")
    .attr("class", "leg")
    .attr("x", 600).attr("y", (d, i) => 127.5 + i * 21.5)
    .attr("text-anchor", "middle").attr("font-size", 20.5)
    .attr("fill", (d, i) => legendColors[i])
    .text(d => d);

// titles
svg.append("text").attr("x", 590).attr("y", 32).attr("text-anchor", "middle")
    .attr("font-size", 34).text("San Diego Int'l Airport");
svg.append("text").attr("x", 98).attr("y", 48).attr("font-size", 24).text("ICAO Code: KSAN");
svg.append("text").attr("x", 98).attr("y", 74).attr("font-size", 24).text("Coordinates: 32.73, -117.19");
svg.append("text").attr("x", 98).attr("y", 100).attr("font-size", 24).text("California, USA");
svg.append("text").attr("x", 1101).attr("y", 71).attr("text-anchor", "end")
    .attr("font-size", 24).text("Model: 18Z 21AUG2026 GEFS");
svg.append("text").attr("x", 1101).attr("y", 98).attr("text-anchor", "end")
    .attr("font-size", 27).attr("font-weight", "bold").attr("fill", "#00a0ff")
    .text("weathertogether.net");

svg.append("text")
    .attr("transform", "translate(44,496) rotate(-90)")
    .attr("text-anchor", "middle").attr("font-size", 33.5)
    .text("850 hPa Temperature (red, °C)");
svg.append("text")
    .attr("transform", "translate(1163,496) rotate(90)")
    .attr("text-anchor", "middle").attr("font-size", 35)
    .text("6-hour Precipitation (green, inches)");
</script>
</body>
</html>
